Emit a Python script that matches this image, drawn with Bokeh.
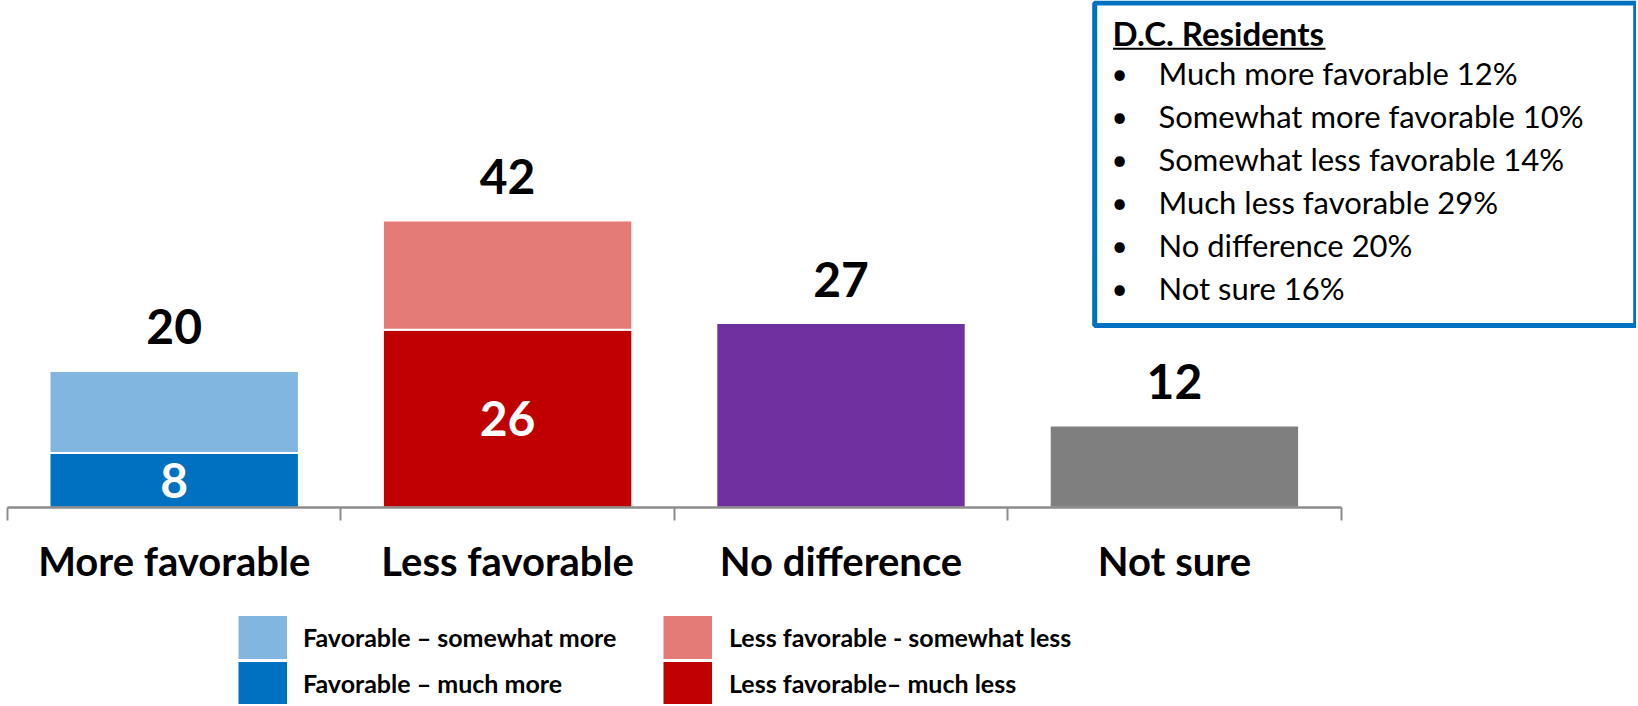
import numpy as np
from bokeh.plotting import figure
from bokeh.models import Range1d, LinearAxis, FixedTicker, Legend, LegendItem, ColumnDataSource
from bokeh.core.properties import value
from bokeh.embed import file_html
from bokeh.resources import INLINE

# ---------------- data ----------------
categories = ["More favorable", "Less favorable", "No difference", "Not sure"]
much_values = [8, 26]          # much more favorable / much less favorable
somewhat_values = [12, 16]     # somewhat more favorable / somewhat less favorable
single_values = [27, 12]       # no difference / not sure
totals = [20, 42, 27, 12]
legend_labels = ["Favorable \u2013 somewhat more", "Favorable \u2013 much more",
                 "Less favorable - somewhat less", "Less favorable\u2013 much less"]
dc_title = "D.C. Residents"
dc_labels = ["Much more favorable", "Somewhat more favorable", "Somewhat less favorable",
             "Much less favorable", "No difference", "Not sure"]
dc_values = [12, 10, 14, 29, 20, 16]

# ---------------- style / layout ----------------
LIGHT_BLUE = "#80B6E0"
DARK_BLUE = "#0070C0"
LIGHT_RED = "#E57B76"
DARK_RED = "#C00000"
PURPLE = "#7030A0"
GRAY = "#7F7F7F"
AXIS_GRAY = "#8C8C8C"
FONT = "Lato"

W, H = 1636, 704
n = len(categories)
centers = np.arange(n) + 0.5
boundaries = np.arange(n + 1)

X0 = 7.0        # pixel position of the first category boundary
UX = 333.4      # pixels per category
AXIS = 507.2    # pixel position of the baseline
UY = 6.84       # pixels per percentage point


def fx(px):
    return (px - X0) / UX


def fy(py):
    return (AXIS - py) / UY


p = figure(width=W, height=H, x_range=Range1d(fx(0), fx(W)), y_range=Range1d(fy(H), fy(0)),
           output_backend="svg", toolbar_location=None, min_border=0,
           x_axis_type=None, y_axis_type=None, outline_line_color=None)
p.background_fill_color = "white"
p.border_fill_color = "white"

bar_w = 0.748
src_much = ColumnDataSource(dict(x=centers[:2], top=much_values, color=[DARK_BLUE, DARK_RED]))
src_some = ColumnDataSource(dict(x=centers[:2], bottom=much_values,
                                 top=list(np.add(much_values, somewhat_values)),
                                 color=[LIGHT_BLUE, LIGHT_RED]))
src_single = ColumnDataSource(dict(x=centers[2:], top=single_values, color=[PURPLE, GRAY]))

r_much = p.vbar(x="x", bottom=0, top="top", width=bar_w, source=src_much,
                fill_color="color", line_color="white", line_width=2)
r_some = p.vbar(x="x", bottom="bottom", top="top", width=bar_w, source=src_some,
                fill_color="color", line_color="white", line_width=2)
r_single = p.vbar(x="x", bottom=0, top="top", width=bar_w, source=src_single,
                  fill_color="color", line_color="white", line_width=2)

# totals above bars
p.text(x=list(centers), y=totals, text=[str(t) for t in totals], y_offset=-44,
       text_align="center", text_baseline="middle", text_font=value(FONT),
       text_font_style="bold", text_font_size="48px", text_color="black")
# inner labels
p.text(x=list(centers[:2]), y=list(np.array(much_values) / 2.0),
       text=[str(v) for v in much_values], text_align="center", text_baseline="middle",
       text_font=value(FONT), text_font_style="bold", text_font_size="48px",
       text_color="white")

# axis
ax = LinearAxis(ticker=FixedTicker(ticks=list(centers), minor_ticks=list(boundaries)),
                fixed_location=0, bounds=(0, n))
ax.major_label_overrides = {float(c): cat for c, cat in zip(centers, categories)}
ax.major_tick_line_color = None
ax.major_tick_out = 0
ax.major_tick_in = 0
ax.minor_tick_line_color = AXIS_GRAY
ax.minor_tick_line_width = 2
ax.minor_tick_out = 13
ax.minor_tick_in = 0
ax.axis_line_color = AXIS_GRAY
ax.axis_line_width = 2.5
ax.major_label_text_font = FONT
ax.major_label_text_font_style = "bold"
ax.major_label_text_font_size = "40px"
ax.major_label_text_color = "black"
ax.major_label_standoff = 16
p.add_layout(ax, "below")

# D.C. residents box
p.quad(left=fx(1094.2), right=fx(1635.2), top=fy(2.5), bottom=fy(325),
       fill_color="white", line_color=DARK_BLUE, line_width=5)
p.text(x=[fx(1112)], y=[fy(32.5)], text=[dc_title], text_align="left", text_baseline="middle",
       text_font=value(FONT), text_font_style="bold", text_font_size="33px", text_color="black")
p.segment(x0=[fx(1112.5)], x1=[fx(1325)], y0=[fy(48.3)], y1=[fy(48.3)],
          line_color="black", line_width=2)
rows = [72.3 + 43.1 * i for i in range(len(dc_labels))]
p.text(x=[fx(1119)] * len(rows), y=[fy(r) for r in rows], text=["\u2022"] * len(rows),
       text_align="center", text_baseline="middle", text_font=value(FONT),
       text_font_size="28px", text_color="black")
p.text(x=[fx(1158)] * len(rows), y=[fy(r) for r in rows],
       text=[f"{l} {v}%" for l, v in zip(dc_labels, dc_values)],
       text_align="left", text_baseline="middle", text_font=value(FONT),
       text_font_size="31px", text_color="black")

# legend swatches: proxy renderers (a single NaN point, nothing drawn in the plot)
# shown in the legend as thick butt-capped lines, i.e. solid squares
swatch_colors = [LIGHT_BLUE, DARK_BLUE, LIGHT_RED, DARK_RED]
proxies = [p.line(x=[np.nan], y=[np.nan], line_color=c, line_width=43, line_cap="butt")
           for c in swatch_colors]

common = dict(orientation="vertical", glyph_width=49, glyph_height=46, spacing=0, padding=0,
              margin=0, border_line_color=None, background_fill_alpha=0,
              label_text_font=FONT, label_text_font_style="bold", label_text_font_size="25px",
              label_text_color="black", label_height=46)
leg1 = Legend(items=[LegendItem(label=legend_labels[0], renderers=[proxies[0]]),
                     LegendItem(label=legend_labels[1], renderers=[proxies[1]])],
              location=(238, -2), label_standoff=16, **common)
leg2 = Legend(items=[LegendItem(label=legend_labels[2], renderers=[proxies[2]]),
                     LegendItem(label=legend_labels[3], renderers=[proxies[3]])],
              location=(663, -2), label_standoff=17, **common)
p.add_layout(leg1)
p.add_layout(leg2)

open("out.html", "w").write(file_html(p, INLINE))
